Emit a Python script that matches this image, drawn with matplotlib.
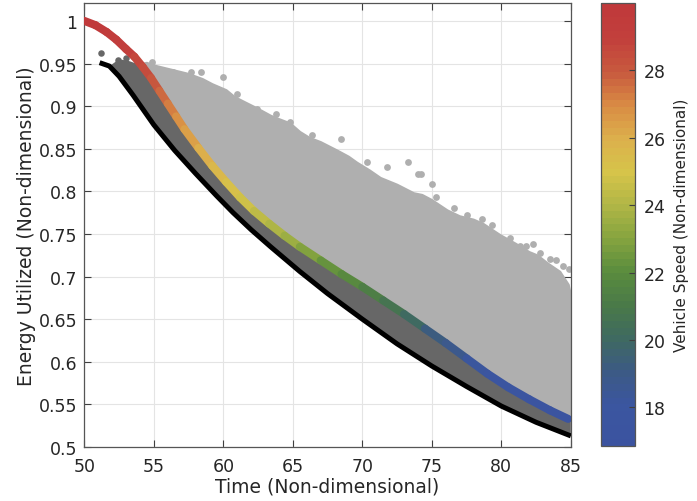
import matplotlib
matplotlib.use("Agg")
import matplotlib.pyplot as plt
from matplotlib.collections import LineCollection
from matplotlib.colors import LinearSegmentedColormap, Normalize
from matplotlib.ticker import FuncFormatter
import numpy as np

# optimal trajectory, coloured by vehicle speed
opt_t = [50.0, 50.8, 51.6, 52.3, 53.0, 53.6, 54.2, 54.8, 55.4, 56.0, 56.6, 57.2,
         58.2, 59.2, 60.2, 61.2, 62.2, 63.3, 64.4, 65.5, 67.0, 68.5, 70.0, 71.5,
         73.0, 74.5, 76.0, 77.5, 79.0, 80.5, 82.0, 83.5, 84.8]
opt_e = [1.000, 0.995, 0.987, 0.978, 0.967, 0.958, 0.946, 0.933, 0.918, 0.903, 0.888, 0.873,
         0.851, 0.830, 0.811, 0.793, 0.777, 0.762, 0.748, 0.735, 0.719, 0.703, 0.688, 0.672,
         0.656, 0.639, 0.622, 0.604, 0.586, 0.570, 0.556, 0.543, 0.533]
opt_v = [29.8, 29.7, 29.6, 29.4, 29.2, 28.9, 28.6, 28.2, 27.8, 27.4, 27.0, 26.6,
         26.1, 25.7, 25.3, 25.0, 24.6, 24.2, 23.7, 23.3, 22.6, 22.1, 21.6, 21.0,
         20.3, 19.6, 19.0, 18.4, 18.0, 17.7, 17.5, 17.4, 17.3]

# lower bound
low_t = [51.1, 51.8, 52.5, 53.5, 55.0, 56.5, 58.0, 59.5, 60.7, 62.0, 63.4, 65.5,
         67.5, 70.0, 72.5, 75.0, 77.5, 80.0, 82.5, 85.0]
low_e = [0.951, 0.947, 0.935, 0.913, 0.878, 0.848, 0.821, 0.795, 0.775, 0.755, 0.735, 0.706,
         0.680, 0.650, 0.621, 0.595, 0.571, 0.548, 0.529, 0.513]

# start of the dark band before it meets the optimal curve
band_t = [51.9, 52.5, 53.2, 53.9]
band_e = [0.948, 0.955, 0.953, 0.949]

# upper edge of the sampled trajectories
cloud_t = [54.0, 54.5, 55.0, 55.5, 56.5, 57.5, 58.5, 59.2, 60.2, 60.8, 61.4, 62.5, 63.4,
           64.0, 64.8, 65.5, 66.2, 67.0, 68.2, 69.0, 69.6, 70.5, 71.3, 72.5, 73.7, 74.3,
           75.0, 76.1, 77.0, 78.0, 78.7, 79.9, 81.0, 82.0, 82.6, 83.3, 84.2, 84.8,
           85.0, 85.0]
cloud_e = [0.948, 0.950, 0.947, 0.945, 0.941, 0.937, 0.931, 0.925, 0.918, 0.910, 0.905, 0.896,
           0.888, 0.884, 0.879, 0.869, 0.862, 0.857, 0.847, 0.840, 0.833, 0.824, 0.815, 0.807,
           0.797, 0.795, 0.789, 0.777, 0.770, 0.766, 0.761, 0.748, 0.738, 0.728, 0.724,
           0.715, 0.705, 0.690, 0.675, 0.535]

# stray samples above the cloud
stray_t = [54.9, 55.8, 56.4, 57.7, 58.4, 60.0, 61.0, 62.4, 63.8, 64.8, 66.4, 68.5, 70.3,
           71.75, 73.3, 74.0, 74.25, 75.0, 75.3, 76.6, 77.5, 78.6, 79.3, 80.6, 81.35,
           81.8, 82.3, 82.8, 83.5, 83.9, 84.4, 84.9]
stray_e = [0.952, 0.940, 0.940, 0.940, 0.940, 0.934, 0.914, 0.897, 0.891, 0.881, 0.866, 0.861,
           0.834, 0.828, 0.834, 0.820, 0.820, 0.809, 0.793, 0.781, 0.772, 0.767, 0.760, 0.745,
           0.736, 0.736, 0.738, 0.728, 0.721, 0.719, 0.712, 0.709]

dark_t = [51.2, 52.4, 53.0]
dark_e = [0.962, 0.954, 0.956]

v_min, v_max = 16.85, 30.0
cmap_pts = [(16.85, "#3b53a0"), (18.0, "#3b56a0"), (19.0, "#3c5a84"), (20.0, "#3f6a60"),
            (21.0, "#4a7a48"), (22.0, "#5a8c3e"), (23.0, "#86a43f"), (24.0, "#b0b646"),
            (25.0, "#d6c44a"), (26.0, "#dcb04c"), (27.0, "#d98c44"), (28.0, "#c85a3e"),
            (29.0, "#c2403c"), (30.0, "#c0393b")]
speed_cmap = LinearSegmentedColormap.from_list(
    "speed", [((v - v_min) / (v_max - v_min), c) for v, c in cmap_pts], N=64)
norm = Normalize(v_min, v_max)

fig = plt.figure(figsize=(6.97, 5.02), dpi=100)
ax = fig.add_axes([0.121, 0.1076, 0.698, 0.8844])
cax = fig.add_axes([0.862, 0.1096, 0.049, 0.8824])

txt = "#262626"
light = "#afafaf"
dark = "#676767"

# light grey cloud: upper edge, then back along the optimal curve
ot = np.array(opt_t)
oe = np.array(opt_e)
keep = ot >= 54.0
poly_t = list(cloud_t) + list(ot[keep][::-1])
poly_e = list(cloud_e) + list(oe[keep][::-1])
ax.fill(poly_t, poly_e, color=light, lw=2.5, ec=light, joinstyle="round", zorder=2)
ax.scatter(stray_t, stray_e, s=24, color=light, lw=0, zorder=2)

# dark band between lower bound and optimal curve
keep2 = ot >= 54.2
dpoly_t = list(low_t) + [85.0] + list(ot[keep2][::-1]) + band_t[::-1]
dpoly_e = list(low_e) + [0.531] + list(oe[keep2][::-1]) + band_e[::-1]
ax.fill(dpoly_t, dpoly_e, color=dark, lw=0, zorder=3)
ax.scatter(dark_t, dark_e, s=22, color=dark, lw=0, zorder=3)

ax.plot(low_t, low_e, color="black", lw=3.6, solid_capstyle="butt", zorder=4)

pts = np.column_stack([opt_t, opt_e]).reshape(-1, 1, 2)
segs = np.concatenate([pts[:-1], pts[1:]], axis=1)
vmid = 0.5 * (np.array(opt_v[:-1]) + np.array(opt_v[1:]))
lc = LineCollection(segs, cmap=speed_cmap, norm=norm, linewidths=5.8,
                    capstyle="round", zorder=5)
lc.set_array(vmid)
ax.add_collection(lc)

ax.set_xlim(50, 85)
ax.set_ylim(0.5, 1.021)
ax.set_xticks(np.arange(50, 86, 5))
ax.set_yticks(np.arange(0.5, 1.001, 0.05))
ax.yaxis.set_major_formatter(FuncFormatter(lambda v, p: "%g" % round(v, 2)))
ax.grid(True, color="#e4e4e4", lw=0.8)
ax.set_axisbelow(True)
ax.tick_params(direction="in", top=True, right=True, length=5, width=0.8,
               labelsize=12.5, colors="#404040", labelcolor=txt)
ax.tick_params(axis="x", pad=7)
ax.tick_params(axis="y", pad=5)
for s in ax.spines.values():
    s.set_color("#555555")
    s.set_linewidth(0.9)
ax.set_xlabel("Time (Non-dimensional)", fontsize=13.5, color=txt, labelpad=1)
ax.set_ylabel("Energy Utilized (Non-dimensional)", fontsize=13.5, color=txt, labelpad=2)

cb = fig.colorbar(plt.cm.ScalarMappable(norm=norm, cmap=speed_cmap), cax=cax)
cb.set_ticks([18, 20, 22, 24, 26, 28])
cb.ax.tick_params(direction="in", length=4, width=0.8, labelsize=12.5,
                  colors="#404040", labelcolor=txt, pad=6)
cb.outline.set_edgecolor("#555555")
cb.outline.set_linewidth(0.9)
cb.set_label("Vehicle Speed (Non-dimensional)", fontsize=11, color=txt, labelpad=6)

fig.savefig("out.png", dpi=100)
